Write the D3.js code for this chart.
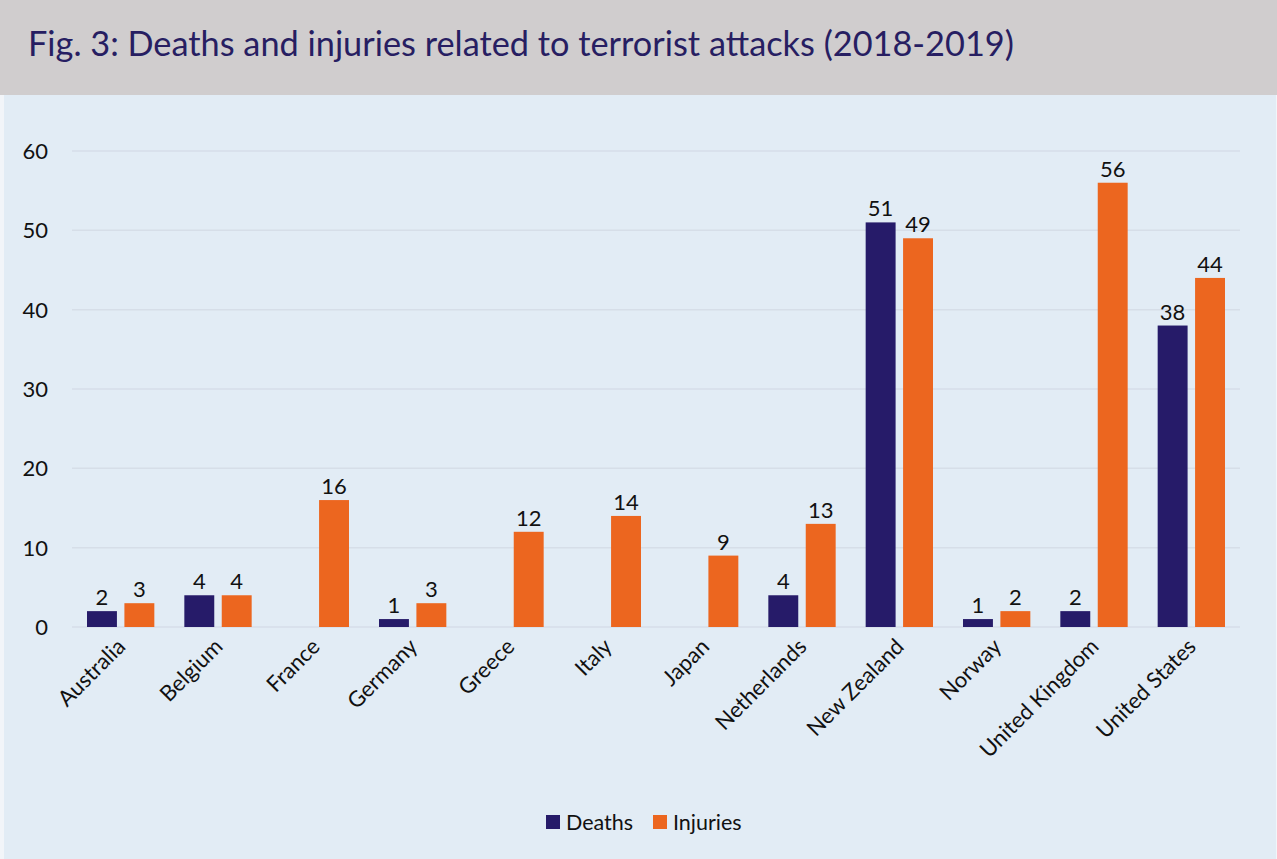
<!DOCTYPE html>
<html>
<head>
<meta charset="utf-8">
<script src="https://cdn.jsdelivr.net/npm/d3@7.9.0/dist/d3.min.js"></script>
<style>
  body { margin: 0; background: #ffffff; }
  svg { display: block; font-family: Lato, 'Open Sans', sans-serif; }
</style>
</head>
<body>
<svg id="chart" width="1277" height="859"></svg>
<script>
const countries = ['Australia', 'Belgium', 'France', 'Germany', 'Greece', 'Italy', 'Japan',
  'Netherlands', 'New Zealand', 'Norway', 'United Kingdom', 'United States'];
const deaths = [2, 4, 0, 1, 0, 0, 0, 4, 51, 1, 2, 38];
const injuries = [3, 4, 16, 3, 12, 14, 9, 13, 49, 2, 56, 44];
const seriesNames = ['Deaths', 'Injuries'];
const yTicks = [0, 10, 20, 30, 40, 50, 60];

const colors = { Deaths: '#261b69', Injuries: '#ec661f' };

const svg = d3.select('#chart');

// header + panel
svg.append('rect').attr('x', 0).attr('y', 0).attr('width', 1277).attr('height', 95).attr('fill', '#d0cdce');
svg.append('rect').attr('x', 0).attr('y', 95).attr('width', 1277).attr('height', 764).attr('fill', '#f2f5f9');
svg.append('rect').attr('x', 4).attr('y', 95).attr('width', 1272).attr('height', 764).attr('fill', '#e2ecf5');

svg.append('text')
  .attr('x', 28).attr('y', 56)
  .attr('fill', '#271e62')
  .attr('font-size', 34.3)
  .text('Fig. 3: Deaths and injuries related to terrorist attacks (2018-2019)');

const x = d3.scaleBand().domain(countries).range([72, 1240]);
const x1 = d3.scaleBand().domain(seriesNames).range([15, x.bandwidth() - 15]).paddingInner(0.2);
const y = d3.scaleLinear().domain([0, 60]).range([627, 151]);

// gridlines
svg.append('g').selectAll('line').data(yTicks).join('line')
  .attr('x1', 72).attr('x2', 1240)
  .attr('y1', d => y(d)).attr('y2', d => y(d))
  .attr('stroke', '#d6dee8').attr('stroke-width', 1.5);

// y labels
svg.append('g').selectAll('text').data(yTicks).join('text')
  .attr('x', 48).attr('y', d => y(d) + 8)
  .attr('text-anchor', 'end')
  .attr('font-size', 22)
  .attr('fill', '#111')
  .text(d => d);

const rows = countries.map((c, i) => ({ c, vals: [
  { s: 'Deaths', v: deaths[i] }, { s: 'Injuries', v: injuries[i] }] }));

const g = svg.append('g').selectAll('g').data(rows).join('g')
  .attr('transform', d => `translate(${x(d.c)},0)`);

g.selectAll('rect').data(d => d.vals.filter(e => e.v > 0)).join('rect')
  .attr('x', d => x1(d.s))
  .attr('width', x1.bandwidth())
  .attr('y', d => y(d.v))
  .attr('height', d => y(0) - y(d.v))
  .attr('fill', d => colors[d.s]);

g.selectAll('text').data(d => d.vals.filter(e => e.v > 0)).join('text')
  .attr('x', d => x1(d.s) + x1.bandwidth() / 2)
  .attr('y', d => y(d.v) - 6)
  .attr('text-anchor', 'middle')
  .attr('font-size', 22)
  .attr('fill', '#111')
  .text(d => d.v);

// x labels rotated
svg.append('g').selectAll('text').data(countries).join('text')
  .attr('transform', d => `translate(${x(d) + x.bandwidth() / 2 + 6},${648}) rotate(-45)`)
  .attr('text-anchor', 'end')
  .attr('font-size', 22)
  .attr('fill', '#111')
  .text(d => d);

// legend
const leg = svg.append('g');
const legX = [546, 653];
seriesNames.forEach((s, i) => {
  leg.append('rect').attr('x', legX[i]).attr('y', 815).attr('width', 14).attr('height', 14).attr('fill', colors[s]);
  leg.append('text').attr('x', legX[i] + 20).attr('y', 830).attr('font-size', 21.5).attr('fill', '#111').text(s);
});
</script>
</body>
</html>
